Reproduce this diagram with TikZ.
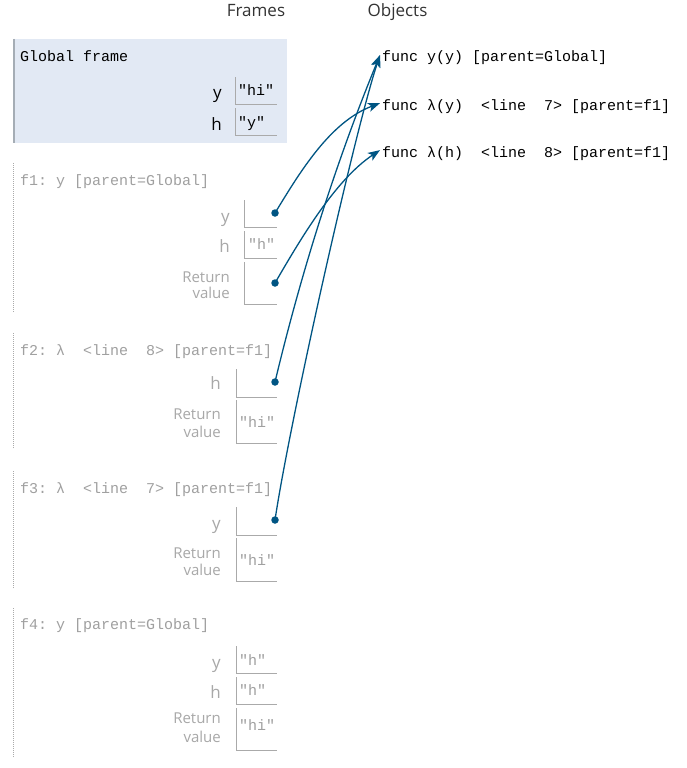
\documentclass[tikz,border=0pt]{standalone}
\usepackage{fontspec}
\setmainfont{Open Sans}
\newfontfamily\monof{Liberation Mono}
\usetikzlibrary{arrows.meta}
\definecolor{arr}{HTML}{005583}
\definecolor{gfill}{HTML}{E2E9F4}
\definecolor{gborder}{HTML}{A5ADB5}
\definecolor{boxl}{HTML}{AAAAAA}
\definecolor{dimtxt}{HTML}{A0A0A0}
\definecolor{dimlbl}{HTML}{A8A8A8}
\definecolor{hdr}{HTML}{333333}
\tikzset{
  hdrtxt/.style={font=\fontsize{17}{20}\selectfont, text=hdr, inner sep=0, anchor=base},
  titletxt/.style={font=\monof\fontsize{15}{18}\selectfont, inner sep=0, anchor=base west},
  lbl/.style={font=\fontsize{17}{20}\selectfont, inner sep=0, anchor=base east},
  retlbl/.style={font=\fontsize{15}{18}\selectfont, inner sep=0, anchor=base east, text=dimlbl},
  valtxt/.style={font=\monof\fontsize{15}{18}\selectfont, inner sep=0, anchor=base west},
  slot/.style={draw=boxl, line width=1pt},
  dimt/.style={text=dimtxt},
  diml/.style={text=dimlbl},
  ptr/.style={draw=arr, line width=1.3pt, -{Stealth[length=12pt,width=9pt,inset=3pt]}},
  ptrdot/.style={circle, fill=arr, inner sep=0, minimum size=7.5pt},
  framebar/.style={draw=boxl, line width=1pt, dash pattern=on 1pt off 1pt},
}
\begin{document}
\begin{tikzpicture}[x=1pt,y=-1pt]
\fill[white] (0,0) rectangle (686,768);
\useasboundingbox (0,0) rectangle (686,768);

% headers
\node[hdrtxt] (hframes) at (256,17) {Frames};
\node[hdrtxt] (hobjects) at (397.5,17) {Objects};

% Global frame
\fill[gfill] (13,39) rectangle (287,143);
\draw[draw=gborder, line width=1.5pt] (13.75,39) -- (13.75,143);
\node[titletxt] (gtitle) at (20,62) {Global frame};
\node[lbl, text=black] (gy) at (222,99) {y};
\draw[slot] (235.5,77) |- (277,104);
\node[valtxt] (gyv) at (238,95) {″hi″};
\node[lbl, text=black] (gh) at (222,130) {h};
\draw[slot] (235.5,108) |- (277,135);
\node[valtxt] (ghv) at (238,127) {″y″};

% f1
\draw[framebar] (13.5,163) -- (13.5,313);
\node[titletxt, dimt] (f1t) at (20,185) {f1:~y~[parent=Global]};
\node[lbl, diml] (f1y) at (230,222) {y};
\draw[slot] (244.5,200) |- (277,227);
\node[ptrdot] (d1) at (275,213) {};
\node[lbl, diml] (f1h) at (230,252) {h};
\draw[slot] (244.5,231) |- (277,258);
\node[valtxt, dimt] (f1hv) at (248,249) {″h″};
\node[retlbl] (f1r1) at (230,282) {Return};
\node[retlbl] (f1r2) at (230,298) {value};
\draw[slot] (244.5,262) |- (277,304);
\node[ptrdot] (d2) at (275,283) {};

% f2
\draw[framebar] (13.5,333) -- (13.5,448);
\node[titletxt, dimt] (f2t) at (20,355) {f2:~λ~~<line~~8>~[parent=f1]};
\node[lbl, diml] (f2h) at (221,389) {h};
\draw[slot] (236.5,369) |- (277,397);
\node[ptrdot] (d3) at (275,382) {};
\node[retlbl] (f2r1) at (221,419) {Return};
\node[retlbl] (f2r2) at (221,437) {value};
\draw[slot] (236.5,400) |- (277,443);
\node[valtxt, dimt] (f2rv) at (239,427) {″hi″};

% f3
\draw[framebar] (13.5,471) -- (13.5,588);
\node[titletxt, dimt] (f3t) at (20,493) {f3:~λ~~<line~~7>~[parent=f1]};
\node[lbl, diml] (f3y) at (221,529) {y};
\draw[slot] (236.5,507) |- (277,535);
\node[ptrdot] (d4) at (275,520) {};
\node[retlbl] (f3r1) at (221,558) {Return};
\node[retlbl] (f3r2) at (221,575) {value};
\draw[slot] (236.5,538) |- (277,581);
\node[valtxt, dimt] (f3rv) at (239,565) {″hi″};

% f4
\draw[framebar] (13.5,608) -- (13.5,757);
\node[titletxt, dimt] (f4t) at (20,629) {f4:~y~[parent=Global]};
\node[lbl, diml] (f4y) at (221,668) {y};
\draw[slot] (236.5,646) |- (277,673);
\node[valtxt, dimt] (f4yv) at (239,665) {″h″};
\node[lbl, diml] (f4h) at (221,698) {h};
\draw[slot] (236.5,677) |- (277,704);
\node[valtxt, dimt] (f4hv) at (239,695) {″h″};
\node[retlbl] (f4r1) at (221,723) {Return};
\node[retlbl] (f4r2) at (221,742) {value};
\draw[slot] (236.5,708) |- (277,750);
\node[valtxt, dimt] (f4rv) at (239,730) {″hi″};

% objects
\node[titletxt] (oyy) at (382,62) {func~y(y)~[parent=Global]};
\node[titletxt] (oly) at (382,110) {func~λ(y)~~<line~~7>~[parent=f1]};
\node[titletxt] (olh) at (382,157) {func~λ(h)~~<line~~8>~[parent=f1]};
\coordinate (oyyin) at ([xshift=-2pt,yshift=3pt]oyy.west);
\coordinate (olyin) at ([xshift=-2pt,yshift=3pt]oly.west);
\coordinate (olhin) at ([xshift=-2pt,yshift=3pt]olh.west);

% pointers
\draw[ptr] (d1.center) .. controls (300,172) and (330,122) .. (olyin);
\draw[ptr] (d2.center) .. controls (300,240) and (335,180) .. (olhin);
\draw[ptr] (d3.center) .. controls (301,273) and (336,162) .. (oyyin);
\draw[ptr] (d4.center) .. controls (290,420) and (355,130) .. (oyyin);
\end{tikzpicture}
\end{document}
